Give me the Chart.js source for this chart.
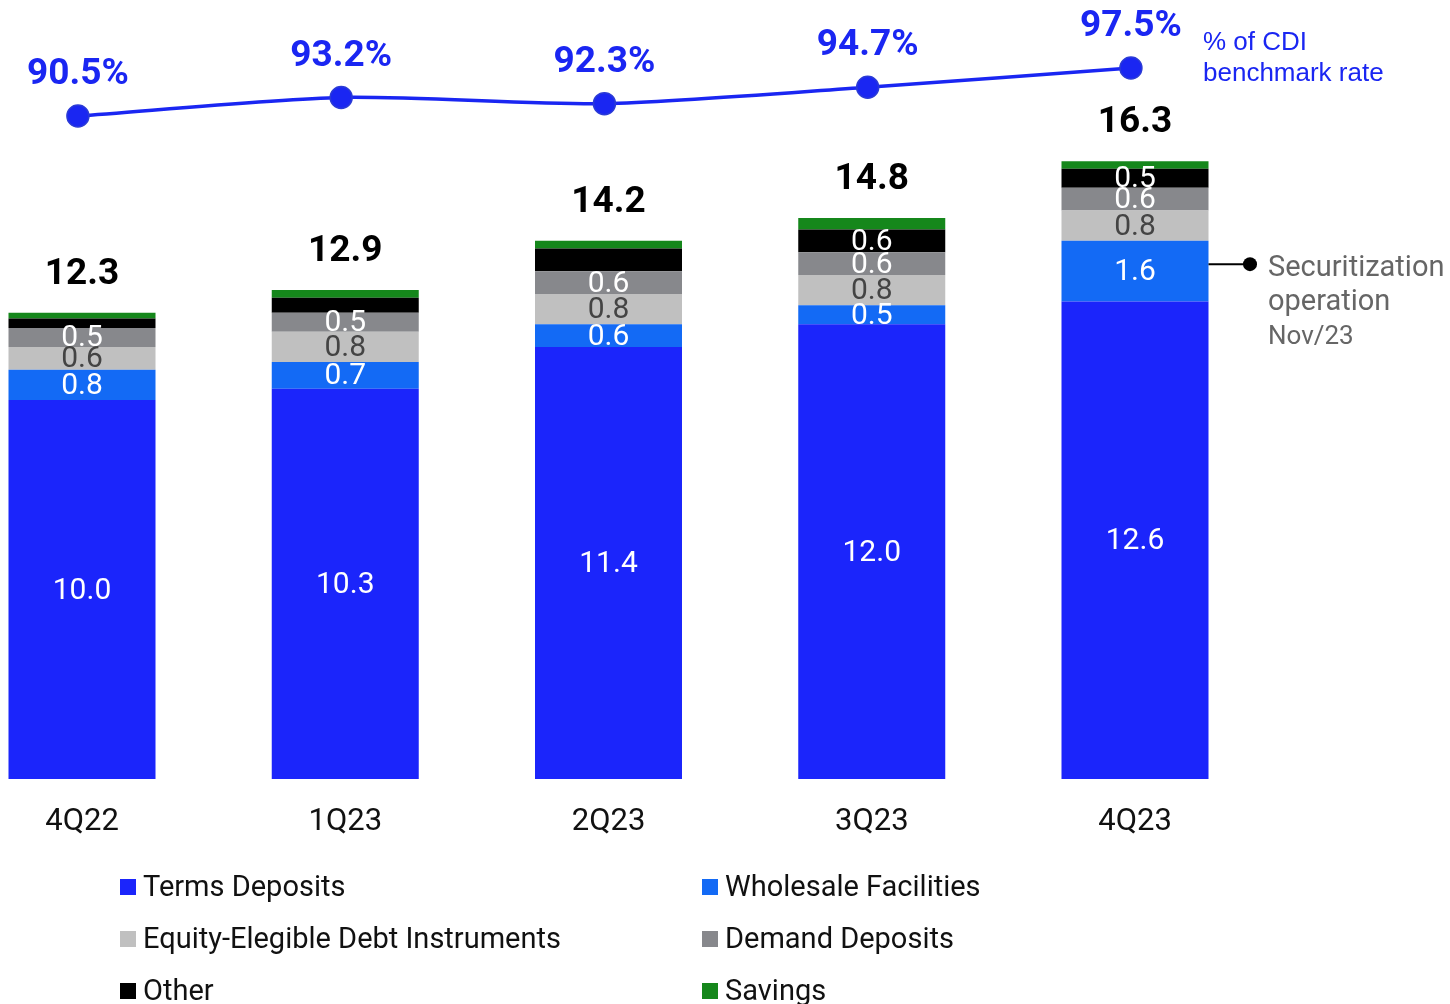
<!DOCTYPE html>
<html>
<head>
<meta charset="utf-8">
<title>Funding mix</title>
<script src="https://cdn.jsdelivr.net/npm/chart.js@4/dist/chart.umd.min.js"></script>
<style>
  html, body { margin: 0; padding: 0; background: #fff; }
  #wrap { width: 1450px; height: 1004px; position: relative; }
</style>
</head>
<body>
<div id="wrap"><canvas id="chart" width="1450" height="1004"></canvas></div>
<script>
// Quarters and funding lines (R$ bn)
const quarters = ['4Q22', '1Q23', '2Q23', '3Q23', '4Q23'];
const termsDeposits = [10.0, 10.3, 11.4, 12.0, 12.6];
const wholesaleFacilities = [0.8, 0.7, 0.6, 0.5, 1.6];
const equityDebt = [0.6, 0.8, 0.8, 0.8, 0.8];
const demandDeposits = [0.5, 0.5, 0.6, 0.6, 0.6];
const other = [0.25, 0.4, 0.6, 0.6, 0.5];
const savings = [0.15, 0.2, 0.2, 0.3, 0.2];
const totals = [12.3, 12.9, 14.2, 14.8, 16.3];
const otherLabelled = [false, false, false, true, true];

// Cost of funding as % of CDI
const cdiShare = [90.5, 93.2, 92.3, 94.7, 97.5];

const BLUE = '#1b25fb';
const LINE_BLUE = '#1a26f2';

const seriesMeta = [
  { label: 'Terms Deposits', data: termsDeposits, color: BLUE, text: '#ffffff' },
  { label: 'Wholesale Facilities', data: wholesaleFacilities, color: '#136af5', text: '#ffffff' },
  { label: 'Equity-Elegible Debt Instruments', data: equityDebt, color: '#c0c0c0', text: '#444444' },
  { label: 'Demand Deposits', data: demandDeposits, color: '#87888c', text: '#ffffff' },
  { label: 'Other', data: other, color: '#000000', text: '#ffffff', shown: otherLabelled },
  { label: 'Savings', data: savings, color: '#15871b', text: null },
];

const barDatasets = seriesMeta.map(s => ({
  type: 'bar',
  label: s.label,
  data: s.data,
  backgroundColor: s.color,
  borderWidth: 0,
  grouped: false,
  maxBarThickness: 147,
  stack: 'funding',
  xAxisID: 'x',
  yAxisID: 'y',
  clip: false,
  order: 2,
}));

// the line sits on its own index axis, nudged a little left of the bar centres
const lineDataset = {
  type: 'line',
  label: '% of CDI benchmark rate',
  data: cdiShare.map((v, i) => ({ x: i, y: v })),
  xAxisID: 'x2',
  yAxisID: 'y2',
  borderColor: LINE_BLUE,
  borderWidth: 3.5,
  tension: 0.25,
  pointRadius: 11,
  pointBackgroundColor: LINE_BLUE,
  pointBorderColor: '#2b3bd6',
  pointBorderWidth: 1.5,
  clip: false,
  order: 1,
};

// Values printed inside the segments, totals above, % labels over the line
const labelPlugin = {
  id: 'labels',
  afterDatasetsDraw(chart) {
    const ctx = chart.ctx;
    ctx.save();
    ctx.textAlign = 'center';
    ctx.textBaseline = 'middle';

    seriesMeta.forEach((s, di) => {
      if (!s.text) return;
      const meta = chart.getDatasetMeta(di);
      ctx.font = '30px Roboto';
      ctx.fillStyle = s.text;
      meta.data.forEach((bar, i) => {
        if (s.shown && !s.shown[i]) return;
        const yc = (bar.y + bar.base) / 2;
        ctx.fillText(s.data[i].toFixed(1), bar.x, yc + 1.5);
      });
    });

    const yScale = chart.scales.y;
    const xScale = chart.scales.x;
    ctx.font = 'bold 37px Roboto';
    ctx.fillStyle = '#000000';
    totals.forEach((t, i) => {
      ctx.fillText(t.toFixed(1), xScale.getPixelForValue(i), yScale.getPixelForValue(t) - 38);
    });

    const lineMeta = chart.getDatasetMeta(seriesMeta.length);
    ctx.fillStyle = LINE_BLUE;
    lineMeta.data.forEach((pt, i) => {
      ctx.fillText(cdiShare[i].toFixed(1) + '%', pt.x, pt.y - 41);
    });
    ctx.restore();
  },
  afterDraw(chart) {
    const ctx = chart.ctx;
    ctx.save();

    // series name for the line
    ctx.font = '26px "Liberation Sans", Arial, sans-serif';
    ctx.fillStyle = LINE_BLUE;
    ctx.textAlign = 'left';
    ctx.textBaseline = 'middle';
    ctx.fillText('% of CDI', 1203, 43);
    ctx.fillText('benchmark rate', 1203, 74);

    // callout for the 4Q23 wholesale segment
    const wf = chart.getDatasetMeta(1).data[4];
    const cy = (wf.y + wf.base) / 2 - 7;
    const x0 = wf.x + wf.width / 2;
    ctx.strokeStyle = '#000000';
    ctx.lineWidth = 2;
    ctx.beginPath();
    ctx.moveTo(x0, cy);
    ctx.lineTo(1250, cy);
    ctx.stroke();
    ctx.fillStyle = '#000000';
    ctx.beginPath();
    ctx.arc(1250, cy, 7, 0, Math.PI * 2);
    ctx.fill();
    ctx.fillStyle = '#666666';
    ctx.font = '29px Roboto';
    ctx.fillText('Securitization', 1268, cy + 5);
    ctx.fillText('operation', 1268, cy + 39);
    ctx.font = '26px Roboto';
    ctx.fillText('Nov/23', 1268, cy + 73);

    // legend, two columns
    ctx.font = '29px Roboto';
    seriesMeta.forEach((s, i) => {
      const col = i % 2;
      const row = Math.floor(i / 2);
      const bx = col === 0 ? 120 : 702;
      const by = 887 + row * 52;
      ctx.fillStyle = s.color;
      ctx.fillRect(bx, by - 8, 16, 16);
      ctx.fillStyle = '#111111';
      ctx.fillText(s.label, bx + 23, by + 2);
    });
    ctx.restore();
  },
};

new Chart(document.getElementById('chart'), {
  data: {
    labels: quarters,
    datasets: [...barDatasets, lineDataset],
  },
  options: {
    responsive: false,
    devicePixelRatio: 1,
    animation: false,
    layout: { padding: { top: 21, left: 82, right: 315, bottom: 0 } },
    plugins: {
      legend: { display: false },
      tooltip: { enabled: false },
    },
    scales: {
      x: {
        stacked: true,
        offset: false,
        grid: { display: false, drawTicks: false },
        border: { display: false },
        ticks: { color: '#111111', font: { family: 'Roboto', size: 31 }, padding: 25 },
        afterFit(scale) { scale.height = 225; },
      },
      x2: {
        type: 'linear',
        display: false,
        min: 0.0155,
        max: 4.0155,
      },
      y: {
        stacked: true,
        display: false,
        min: 0,
        max: 20,
      },
      y2: {
        display: false,
        min: -6.24,
        max: 104.36,
      },
    },
  },
  plugins: [labelPlugin],
});
</script>
</body>
</html>
